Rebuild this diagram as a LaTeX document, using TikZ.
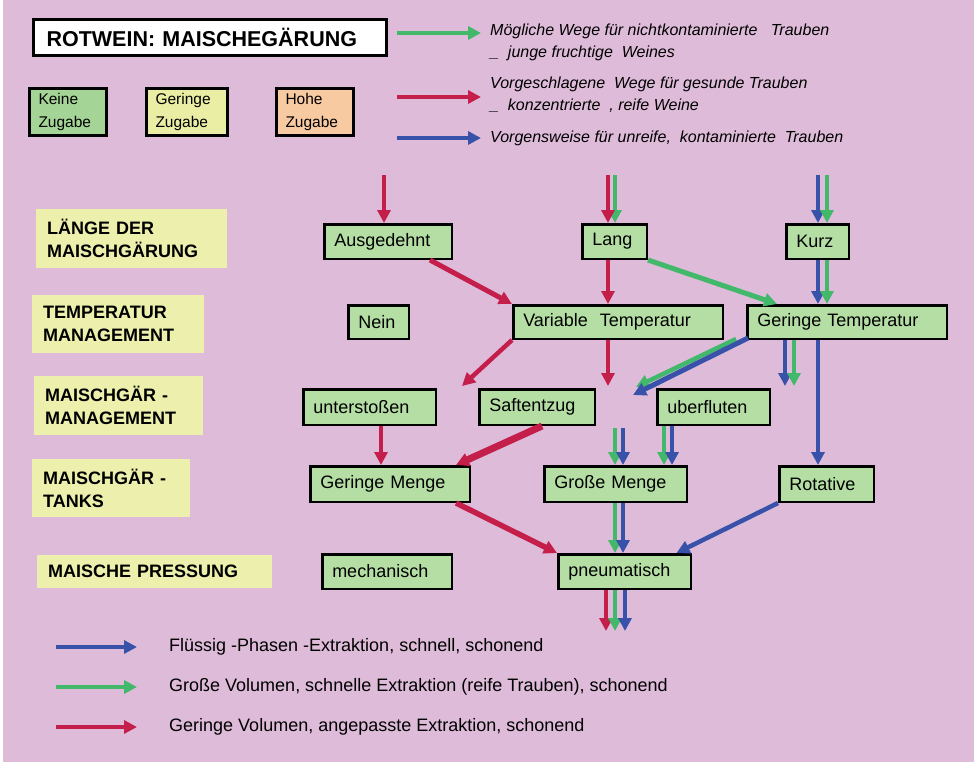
\documentclass[tikz,border=0pt]{standalone}
\usepackage{fontspec}
\setmainfont{Liberation Sans}
\usetikzlibrary{positioning,arrows.meta}

\definecolor{bgpink}{RGB}{222,187,217}
\definecolor{boxgreen}{RGB}{180,222,164}
\definecolor{keygreen}{RGB}{164,212,150}
\definecolor{keyyellow}{RGB}{234,238,164}
\definecolor{keypeach}{RGB}{248,202,162}
\definecolor{lblyellow}{RGB}{236,240,172}
\definecolor{arrred}{RGB}{196,30,74}
\definecolor{arrgreen}{RGB}{66,184,106}
\definecolor{arrblue}{RGB}{56,82,170}

\begin{document}
\begin{tikzpicture}[x=1pt, y=-1pt,
box/.style={draw, line width=2.5pt, fill=boxgreen, inner xsep=10pt, inner ysep=0pt, minimum height=34.5pt, align=left, font=\fontsize{18}{21}\selectfont},
keybox/.style={draw, line width=3pt, inner xsep=9pt, inner ysep=0pt, text width=59pt, minimum height=47pt, align=left, font=\fontsize{15.5}{23}\selectfont},
titlebox/.style={draw, line width=3pt, fill=white, inner xsep=13pt, inner ysep=0pt, text width=327pt, minimum height=36pt, align=left, font=\bfseries\fontsize{21.5}{24}\selectfont},
rowlabel/.style={fill=lblyellow, anchor=north west, inner xsep=11pt, inner ysep=0pt, align=left, font=\bfseries\fontsize{18}{23}\selectfont},
legtext/.style={anchor=west, inner xsep=2pt, align=left, font=\itshape\fontsize{16}{22}\selectfont},
keytext/.style={anchor=west, inner xsep=2pt, font=\fontsize{18}{21}\selectfont},
flow/.style={line width=4.5pt, -{Triangle[length=13pt,width=13pt]}},
redpath/.style={flow, draw=arrred},
greenpath/.style={flow, draw=arrgreen},
bluepath/.style={flow, draw=arrblue},
]
% background
\fill[white] (0,0) rectangle (977,765);
\fill[bgpink] (3,0) rectangle (974,762);
\useasboundingbox (0,0) rectangle (977,765);

% title and legend of additions
\node[titlebox, anchor=north west] (title) at (32,18) {ROTWEIN: MAISCHEGÄRUNG};
\node[keybox, fill=keygreen, anchor=north west] (keine) at (28,87) {Keine\\Zugabe};
\node[keybox, fill=keyyellow, right=37pt of keine, text width=63pt] (geringe) {Geringe\\Zugabe};
\node[keybox, fill=keypeach, right=46pt of geringe] (hohe) {Hohe\\Zugabe};

% legend of ways
\coordinate (legGs) at (397,33);
\coordinate (legGe) at (481,33);
\draw[greenpath] (legGs) -- (legGe);
\node[legtext] (legGtext) at (488,42) {Mögliche Wege für nichtkontaminierte\ \ \ Trauben\\\_\ \ junge fruchtige\ \ Weines};
\coordinate (legRs) at (397,97);
\coordinate (legRe) at (481,97);
\draw[redpath] (legRs) -- (legRe);
\node[legtext] (legRtext) at (488,95) {Vorgeschlagene\ \ Wege für gesunde Trauben\\\_\ \ konzentrierte\ \ , reife Weine};
\coordinate (legBs) at (397,138);
\coordinate (legBe) at (481,138);
\draw[bluepath] (legBs) -- (legBe);
\node[legtext] (legBtext) at (488,138) {Vorgensweise für unreife,\ \ kontaminierte\ \ Trauben};

% row labels
\node[rowlabel, text width=169pt, minimum height=59pt] (lenLbl) at (36,209) {LÄNGE DER\\MAISCHGÄRUNG};
\node[rowlabel, text width=150pt, minimum height=58pt] (tempLbl) at (32,295) {TEMPERATUR\\MANAGEMENT};
\node[rowlabel, text width=147pt, minimum height=59pt] (mgmtLbl) at (34,376) {MAISCHGÄR -\\MANAGEMENT};
\node[rowlabel, text width=136pt, minimum height=58pt] (tankLbl) at (32,459) {MAISCHGÄR -\\TANKS};
\node[rowlabel, text width=213pt, minimum height=33pt] (pressLbl) at (37,555) {MAISCHE PRESSUNG};

% length of fermentation
\node[box, text width=107.5pt] (ausgedehnt) at (388,241.5) {Ausgedehnt};
\node[box, text width=44.5pt] (lang) at (614.5,241.5) {Lang};
\node[box, text width=42.5pt] (kurz) at (817.5,241.5) {Kurz};
% temperature
\node[box, text width=40.5pt, minimum height=33.5pt] (nein) at (378.5,322) {Nein};
\node[box, text width=189.5pt, minimum height=33.5pt] (vartemp) at (618,322) {Variable\ \ Temperatur};
\node[box, text width=179.5pt, minimum height=33.5pt] (gertemp) at (847,322) {Geringe Temperatur};
% management
\node[box, text width=112.5pt, minimum height=35.5pt] (unterst) at (369.5,407) {unterstoßen};
\node[box, text width=95.5pt, minimum height=35.5pt] (saft) at (537,407) {Saftentzug};
\node[box, text width=92.5pt, minimum height=35.5pt] (uberfl) at (713.5,407) {uberfluten};
% tanks
\node[box, text width=139.5pt, minimum height=35.5pt] (gerMenge) at (390,484) {Geringe Menge};
\node[box, text width=122.5pt, minimum height=35.5pt] (grossMenge) at (615.5,484) {Große Menge};
\node[box, text width=74.5pt, minimum height=35.5pt] (rotative) at (826.5,484) {Rotative};
% pressing
\node[box, text width=109.5pt] (mechanisch) at (387,571.5) {mechanisch};
\node[box, text width=112.5pt] (pneumatisch) at (624.5,571.5) {pneumatisch};

% incoming ways
\coordinate (inAus) at (384,175);
\coordinate (inLangR) at (608,175);
\coordinate (inLangG) at (615,175);
\coordinate (inKurzB) at (818,175);
\coordinate (inKurzG) at (827,175);
\draw[redpath] (inAus) -- ([xshift=-4pt]ausgedehnt.north);
\draw[greenpath] (inLangG) -- ([xshift=0.5pt]lang.north);
\draw[redpath] (inLangR) -- ([xshift=-6.5pt]lang.north);
\draw[bluepath] (inKurzB) -- ([xshift=0.5pt]kurz.north);
\draw[greenpath] (inKurzG) -- ([xshift=9.5pt]kurz.north);

% length -> temperature
\draw[redpath, line width=5pt] ([xshift=42pt]ausgedehnt.south) -- (vartemp.north west);
\draw[redpath] ([xshift=-6.5pt]lang.south) -- ([xshift=-10pt]vartemp.north);
\draw[greenpath, line width=5pt] (lang.south east) -- ([xshift=31pt]gertemp.north west);
\draw[bluepath] ([xshift=0.5pt]kurz.south) -- ([xshift=-29pt]gertemp.north);
\draw[greenpath] ([xshift=9.5pt]kurz.south) -- ([xshift=-20pt]gertemp.north);

% temperature -> management
\coordinate (manLeft) at (462,386);
\coordinate (manMid) at (608,386);
\coordinate (manRightG) at (636,387);
\coordinate (manRightB) at (633,395);
\coordinate (gtDownB) at (785,386);
\coordinate (gtDownG) at (794,386);
\draw[redpath] (vartemp.south west) -- (manLeft);
\draw[redpath] ([xshift=-10pt]vartemp.south) -- (manMid);
\draw[greenpath] ([xshift=-10pt,yshift=1pt]gertemp.south west) -- (manRightG);
\draw[bluepath, line width=5pt] ([xshift=2pt,yshift=2pt]gertemp.south west) -- (manRightB);
\draw[bluepath] ([xshift=-62pt]gertemp.south) -- (gtDownB);
\draw[greenpath] ([xshift=-53pt]gertemp.south) -- (gtDownG);
\draw[bluepath] ([xshift=-29pt]gertemp.south) -- ([xshift=-8.5pt]rotative.north);

% management -> tanks
\coordinate (gmStartG) at (615,428);
\coordinate (gmStartB) at (623,428);
\draw[redpath] ([xshift=11.5pt]unterst.south) -- ([xshift=-9pt]gerMenge.north);
\draw[redpath, line width=7pt] ([xshift=5pt]saft.south) -- ([xshift=66pt]gerMenge.north);
\draw[greenpath] (gmStartG) -- ([xshift=-0.5pt]grossMenge.north);
\draw[bluepath] (gmStartB) -- ([xshift=7.5pt]grossMenge.north);
\draw[greenpath] ([xshift=-49.5pt]uberfl.south) -- ([xshift=48.5pt]grossMenge.north);
\draw[bluepath] ([xshift=-41.5pt]uberfl.south) -- ([xshift=56.5pt]grossMenge.north);

% tanks -> pressing
\draw[redpath, line width=5.5pt] ([xshift=66pt]gerMenge.south) -- (pneumatisch.north west);
\draw[greenpath] ([xshift=-0.5pt]grossMenge.south) -- ([xshift=-9.5pt]pneumatisch.north);
\draw[bluepath] ([xshift=7.5pt]grossMenge.south) -- ([xshift=-1.5pt]pneumatisch.north);
\draw[bluepath] (rotative.south west) -- ([xshift=-15.5pt]pneumatisch.north east);

% out of the press
\coordinate (outR) at (606,631);
\coordinate (outG) at (615,631);
\coordinate (outB) at (625,631);
\draw[redpath] ([xshift=-18.5pt]pneumatisch.south) -- (outR);
\draw[greenpath] ([xshift=-9.5pt]pneumatisch.south) -- (outG);
\draw[bluepath] ([xshift=0.5pt]pneumatisch.south) -- (outB);

% legend of extraction
\node[keytext] (keyBtext) at (167,647) {Flüssig -Phasen -Extraktion, schnell, schonend};
\node[keytext] (keyGtext) at (167,687) {Große Volumen, schnelle Extraktion (reife Trauben), schonend};
\node[keytext] (keyRtext) at (167,727) {Geringe Volumen, angepasste Extraktion, schonend};
\coordinate (keyBs) at (56,647);
\coordinate (keyGs) at (56,687);
\coordinate (keyRs) at (56,727);
\draw[bluepath] (keyBs) -- ([xshift=-30pt]keyBtext.west);
\draw[greenpath] (keyGs) -- ([xshift=-30pt]keyGtext.west);
\draw[redpath] (keyRs) -- ([xshift=-30pt]keyRtext.west);
\end{tikzpicture}
\end{document}
